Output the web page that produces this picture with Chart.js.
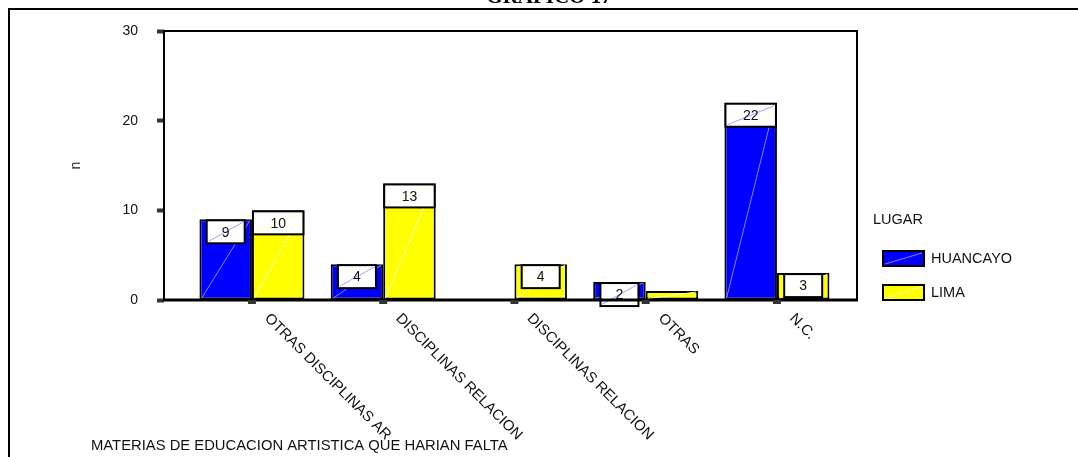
<!DOCTYPE html>
<html>
<head>
<meta charset="utf-8">
<script src="https://cdn.jsdelivr.net/npm/chart.js@4.4.1/dist/chart.umd.min.js"></script>
<style>
  html, body { margin: 0; padding: 0; background: #fff; }
  #wrap { width: 1078px; height: 457px; position: relative; }
</style>
</head>
<body>
<div id="wrap"><canvas id="grafico"></canvas></div>
<script>
// datos
const categorias = ['OTRAS DISCIPLINAS AR', 'DISCIPLINAS RELACION', 'DISCIPLINAS RELACION', 'OTRAS', 'N.C.'];
const huancayo = [9, 4, 0, 2, 22];
const lima = [10, 13, 4, 1, 3];
const lugares = ['HUANCAYO', 'LIMA'];
const ticksY = [0, 10, 20, 30];
const tituloGrafico = 'GRAFICO 17';
const tituloX = 'MATERIAS DE EDUCACION ARTISTICA QUE HARIAN FALTA';
const tituloY = 'n';
const tituloLeyenda = 'LUGAR';

const FUENTE = '"Liberation Sans", Arial, sans-serif';
const colores = ['#0000ff', '#ffff00'];
const diagonales = ['rgba(150,150,255,0.9)', 'rgba(255,255,190,1)'];

function serie(valores) {
  return valores.map((v, i) => ({ x: i + 1, y: v }));
}

// marco, etiquetas de valor, etiquetas rotadas y leyenda
const dibujoSPSS = {
  id: 'dibujoSPSS',
  afterDatasetsDraw(chart) {
    const ctx = chart.ctx;
    const a = chart.chartArea;
    const xs = chart.scales.x;
    ctx.save();

    // diagonales de las barras
    chart.data.datasets.forEach((ds, d) => {
      chart.getDatasetMeta(d).data.forEach((bar, i) => {
        if (!ds.data[i].y) return;
        const l = bar.x - bar.width / 2, r = bar.x + bar.width / 2;
        ctx.strokeStyle = diagonales[d];
        ctx.lineWidth = 1;
        ctx.beginPath();
        ctx.moveTo(l + 2, bar.base - 1);
        ctx.lineTo(r - 2, bar.y + 1);
        ctx.stroke();
      });
    });

    // cajas con los valores
    ctx.font = '14px ' + FUENTE;
    ctx.textAlign = 'center';
    ctx.textBaseline = 'middle';
    chart.data.datasets.forEach((ds, d) => {
      chart.getDatasetMeta(d).data.forEach((bar, i) => {
        const v = ds.data[i].y;
        if (v < 2) return;
        const txt = String(v);
        const w = txt.length > 1 ? bar.width - 2 : 38;
        const h = 23;
        const x0 = bar.x - w / 2;
        const y0 = bar.y + 1;
        ctx.fillStyle = '#fff';
        ctx.fillRect(x0, y0, w, h);
        ctx.strokeStyle = diagonales[d];
        ctx.lineWidth = 1;
        ctx.beginPath();
        ctx.moveTo(x0 + 2, y0 + h - 2);
        ctx.lineTo(x0 + w - 2, y0 + 2);
        ctx.stroke();
        ctx.strokeStyle = '#000';
        ctx.lineWidth = 2;
        ctx.strokeRect(x0, y0, w, h);
        ctx.fillStyle = '#111';
        ctx.fillText(txt, bar.x, y0 + h / 2 + 1);
      });
    });

    // marco del area de trazado
    ctx.strokeStyle = '#000';
    ctx.lineWidth = 2;
    ctx.beginPath();
    ctx.moveTo(a.left, a.bottom);
    ctx.lineTo(a.left, a.top);
    ctx.lineTo(a.right, a.top);
    ctx.lineTo(a.right, a.bottom);
    ctx.stroke();
    ctx.lineWidth = 3;
    ctx.beginPath();
    ctx.moveTo(a.left - 1, a.bottom);
    ctx.lineTo(a.right + 1, a.bottom);
    ctx.stroke();

    // marcas del eje x
    ctx.fillStyle = '#333';
    categorias.forEach((c, i) => {
      const px = xs.getPixelForValue(i + 1);
      ctx.fillRect(px - 4, a.bottom, 8, 4);
    });
    ctx.restore();
  },
  afterDraw(chart) {
    const ctx = chart.ctx;
    const a = chart.chartArea;
    const xs = chart.scales.x;
    ctx.save();

    // marco exterior
    ctx.strokeStyle = '#000';
    ctx.lineWidth = 2;
    ctx.beginPath();
    ctx.moveTo(9, chart.height);
    ctx.lineTo(9, 9);
    ctx.lineTo(chart.width, 9);
    ctx.stroke();

    // titulo (cortado arriba)
    ctx.fillStyle = '#000';
    ctx.font = 'bold 21px "Liberation Serif", "Times New Roman", serif';
    ctx.textAlign = 'center';
    ctx.textBaseline = 'alphabetic';
    ctx.fillText(tituloGrafico, 549, 3);

    // etiquetas de categoria giradas
    ctx.fillStyle = '#111';
    ctx.font = '14.8px ' + FUENTE;
    ctx.textAlign = 'left';
    categorias.forEach((c, i) => {
      const px = xs.getPixelForValue(i + 1);
      ctx.save();
      ctx.translate(px + 12, a.bottom + 19);
      ctx.rotate(Math.PI / 4);
      ctx.fillText(c, 0, 0);
      ctx.restore();
    });

    // titulo del eje x
    ctx.textBaseline = 'middle';
    ctx.fillText(tituloX, 91, 446);

    // leyenda
    ctx.font = '14.5px ' + FUENTE;
    ctx.fillText(tituloLeyenda, 873, 220);
    chart.data.datasets.forEach((ds, d) => {
      const y = 251 + d * 34;
      ctx.fillStyle = ds.backgroundColor;
      ctx.fillRect(883, y, 41, 15);
      ctx.strokeStyle = diagonales[d];
      ctx.lineWidth = 1;
      ctx.beginPath();
      ctx.moveTo(885, y + 13);
      ctx.lineTo(922, y + 2);
      ctx.stroke();
      ctx.strokeStyle = '#000';
      ctx.lineWidth = 2;
      ctx.strokeRect(883, y, 41, 15);
      ctx.fillStyle = '#111';
      ctx.fillText(ds.label, 931, y + 8);
    });
    ctx.restore();
  }
};

const ctxGrafico = document.getElementById('grafico').getContext('2d');
const grafico = new Chart(ctxGrafico, {
  type: 'bar',
  data: {
    datasets: [{
      label: lugares[0],
      data: serie(huancayo),
      backgroundColor: colores[0],
      borderColor: '#000',
      borderWidth: 2,
      borderSkipped: false
    }, {
      label: lugares[1],
      data: serie(lima),
      backgroundColor: colores[1],
      borderColor: '#000',
      borderWidth: 2,
      borderSkipped: false
    }]
  },
  options: {
    responsive: true,
    maintainAspectRatio: false,
    animation: false,
    categoryPercentage: 0.8,
    barPercentage: 1.0,
    layout: {
      padding: { top: 31, right: 221, bottom: 157, left: 0 }
    },
    plugins: {
      legend: { display: false },
      tooltip: { enabled: false }
    },
    scales: {
      x: {
        type: 'linear',
        min: 0.33,
        max: 5.61,
        offset: false,
        afterBuildTicks: s => { s.ticks = categorias.map((c, i) => ({ value: i + 1 })); },
        afterFit: s => { s.height = 0; },
        ticks: { display: false },
        grid: { display: false },
        border: { display: false }
      },
      y: {
        min: 0,
        max: 30,
        afterBuildTicks: s => { s.ticks = ticksY.map(v => ({ value: v })); },
        afterFit: s => { s.width = 164; },
        ticks: {
          color: '#111',
          padding: 19,
          font: { family: FUENTE, size: 14 }
        },
        grid: {
          drawOnChartArea: false,
          tickLength: 7,
          tickWidth: 4,
          tickColor: '#333'
        },
        border: { display: false },
        title: {
          display: true,
          text: tituloY,
          color: '#111',
          font: { family: FUENTE, size: 14 },
          padding: { top: 68, bottom: 0 }
        }
      }
    }
  },
  plugins: [dibujoSPSS]
});
</script>
</body>
</html>
